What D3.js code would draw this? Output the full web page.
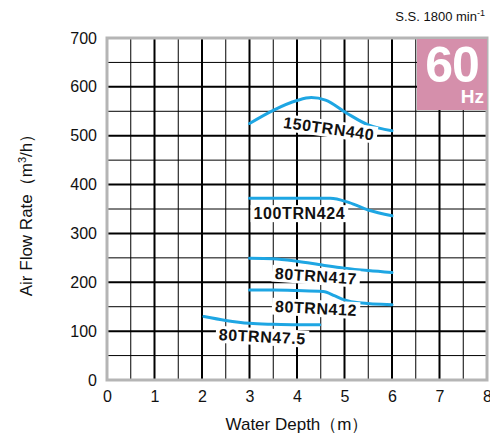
<!DOCTYPE html>
<html>
<head>
<meta charset="utf-8">
<script src="https://cdn.jsdelivr.net/npm/d3@7"></script>
<style>
  body { margin: 0; background: #fff; }
  text { font-family: "Liberation Sans", Arial, sans-serif; }
</style>
</head>
<body>
<script>
// data (depth m, air flow m3/h)
var depthTicks = [0, 1, 2, 3, 4, 5, 6, 7, 8];
var flowTicks = [0, 100, 200, 300, 400, 500, 600, 700];

var trn440 = [[3, 525], [3.5, 552], [4, 572], [4.3, 578], [4.6, 573], [5.05, 546], [5.5, 522], [6, 510]];
var trn424 = [[3, 372], [3.5, 372], [4, 372], [4.7, 372], [5.1, 363], [5.5, 348], [6, 336]];
var trn417 = [[3, 249], [3.5, 248], [4, 243], [4.55, 235], [5, 229], [5.5, 224], [6, 220]];
var trn412 = [[3, 184], [3.5, 184], [4, 183], [4.55, 181], [4.8, 172], [5, 164], [5.3, 158], [6, 154]];
var trn475 = [[2.04, 130], [2.5, 122], [3, 116], [3.5, 114], [4, 113], [4.48, 113]];

var curveNames = ["150TRN440", "100TRN424", "80TRN417", "80TRN412", "80TRN47.5"];
var curves = [trn440, trn424, trn417, trn412, trn475];
// label anchor (depth, flow) and tilt
var labelAt = [[4.67, 515], [4.05, 341], [4.4, 213], [4.4, 147], [3.27, 89]];
var labelTilt = [8, 0, 4, 3, 3];

(function () {
    var width = 490, height = 439,
        left = 107, right = 487, top = 38, bottom = 380;

    var svg = d3.select('body').append('svg')
        .attr('width', width)
        .attr('height', height);

    var x = d3.scaleLinear().domain([0, 8]).range([left, right]);
    var y = d3.scaleLinear().domain([0, 700]).range([bottom, top]);

    var grid = svg.append('g');

    // minor grid lines
    grid.selectAll('.vminor').data(d3.range(0.5, 8, 1)).enter().append('line')
        .attr('x1', x).attr('x2', x).attr('y1', top).attr('y2', bottom)
        .attr('stroke', '#000').attr('stroke-width', 1);
    grid.selectAll('.hminor').data(d3.range(50, 700, 100)).enter().append('line')
        .attr('x1', left).attr('x2', right).attr('y1', y).attr('y2', y)
        .attr('stroke', '#000').attr('stroke-width', 1);

    // major grid lines
    grid.selectAll('.vmajor').data(d3.range(1, 8)).enter().append('line')
        .attr('x1', x).attr('x2', x).attr('y1', top).attr('y2', bottom)
        .attr('stroke', '#000').attr('stroke-width', 2);
    grid.selectAll('.hmajor').data(d3.range(100, 700, 100)).enter().append('line')
        .attr('x1', left).attr('x2', right).attr('y1', y).attr('y2', y)
        .attr('stroke', '#000').attr('stroke-width', 2);

    // frame
    svg.append('rect')
        .attr('x', left).attr('y', top)
        .attr('width', right - left).attr('height', bottom - top)
        .attr('fill', 'none')
        .attr('stroke', '#b5b5b5')
        .attr('stroke-width', 3);

    // axes (labels only)
    var xAxis = svg.append('g')
        .attr('transform', 'translate(0,' + (bottom + 2) + ')')
        .call(d3.axisBottom(x).tickValues(depthTicks).tickSize(0).tickPadding(9));
    var yAxis = svg.append('g')
        .attr('transform', 'translate(' + (left - 2) + ',0)')
        .call(d3.axisLeft(y).tickValues(flowTicks).tickSize(0).tickPadding(8));
    [xAxis, yAxis].forEach(function (a) {
        a.select('.domain').remove();
        a.selectAll('text')
            .style('font-family', '"Liberation Sans", Arial, sans-serif')
            .style('font-size', '16px')
            .attr('fill', '#111');
    });

    // curves
    var line = d3.line()
        .x(function (d) { return x(d[0]); })
        .y(function (d) { return y(d[1]); })
        .curve(d3.curveMonotoneX);

    svg.selectAll('.curve').data(curves).enter().append('path')
        .attr('d', line)
        .attr('fill', 'none')
        .attr('stroke', '#1ea6e3')
        .attr('stroke-width', 3)
        .attr('stroke-linecap', 'round');

    // curve labels with white boxes
    curveNames.forEach(function (name, i) {
        var g = svg.append('g')
            .attr('transform', 'translate(' + x(labelAt[i][0]) + ',' + y(labelAt[i][1]) + ') rotate(' + labelTilt[i] + ')');
        var t = g.append('text')
            .attr('text-anchor', 'middle')
            .attr('dy', '0.36em')
            .style('font-size', '16px')
            .style('font-weight', 'bold')
            .style('letter-spacing', '0.6px')
            .attr('fill', '#111')
            .text(name);
        var bb = t.node().getBBox();
        g.insert('rect', 'text')
            .attr('x', bb.x - 3).attr('y', bb.y)
            .attr('width', bb.width + 6).attr('height', bb.height)
            .attr('fill', '#fff');
    });

    // 60 Hz badge
    svg.append('rect')
        .attr('x', 417).attr('y', 39)
        .attr('width', 70).attr('height', 71)
        .attr('fill', '#d58fab');
    svg.append('text')
        .attr('x', 452).attr('y', 82)
        .attr('text-anchor', 'middle')
        .style('font-size', '50px')
        .style('font-weight', 'bold')
        .style('letter-spacing', '-1px')
        .attr('fill', '#fff')
        .text('60');
    svg.append('text')
        .attr('x', 484).attr('y', 103)
        .attr('text-anchor', 'end')
        .style('font-size', '19px')
        .style('font-weight', 'bold')
        .attr('fill', '#fff')
        .text('Hz');

    // speed note
    var ss = svg.append('text')
        .attr('x', 485).attr('y', 21)
        .attr('text-anchor', 'end')
        .style('font-size', '13px')
        .attr('fill', '#111');
    ss.append('tspan').text('S.S. 1800 min');
    ss.append('tspan').attr('dy', -5).style('font-size', '9px').text('-1');

    // axis titles
    svg.append('text')
        .attr('x', 297).attr('y', 430)
        .attr('text-anchor', 'middle')
        .style('font-size', '17px')
        .attr('fill', '#111')
        .text('Water Depth（m）');

    var yt = svg.append('text')
        .attr('transform', 'translate(32,211) rotate(-90)')
        .attr('text-anchor', 'middle')
        .style('font-size', '17px')
        .attr('fill', '#111');
    yt.append('tspan').text('Air Flow Rate（m');
    yt.append('tspan').attr('dy', -6).style('font-size', '11px').text('3');
    yt.append('tspan').attr('dy', 6).text('/h）');
}());
</script>
</body>
</html>
